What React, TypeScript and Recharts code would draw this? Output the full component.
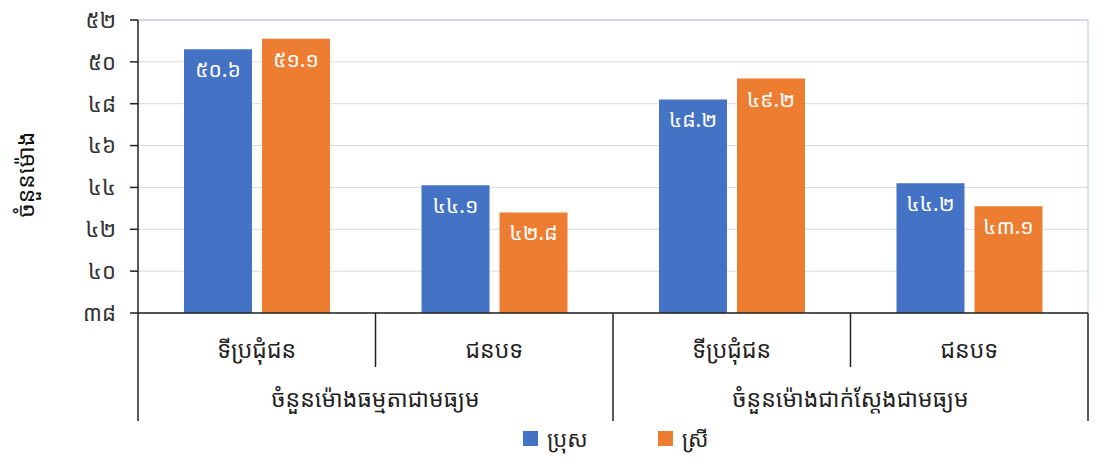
import { Bar, BarChart, CartesianGrid, LabelList, Legend, ReferenceLine, XAxis, YAxis } from "recharts";

const subCategories = ["ទីប្រជុំជន", "ជនបទ", "ទីប្រជុំជន", "ជនបទ"];
const groups = ["ចំនួនម៉ោងធម្មតាជាមធ្យម", "ចំនួនម៉ោងជាក់ស្តែងជាមធ្យម"];
const male = [50.6, 44.1, 48.2, 44.2];
const female = [51.1, 42.8, 49.2, 43.1];
const yTicks = [38, 40, 42, 44, 46, 48, 50, 52];

const data = subCategories.map((name, i) => ({
  name,
  group: groups[Math.floor(i / 2)],
  male: male[i],
  female: female[i],
}));

const FONT = "'Noto Sans Khmer', 'Khmer OS', 'Khmer OS System', sans-serif";
const KHMER_DIGITS = "០១២៣៤៥៦៧៨៩";
const toKhmer = (v: number | string) =>
  String(v).replace(/[0-9]/g, (d) => KHMER_DIGITS[Number(d)]);

const WIDTH = 1113;
const HEIGHT = 473;
const MARGIN = { top: 20, right: 25, bottom: 6, left: 0 };
const Y_WIDTH = 138;
const HALF_BAND = (WIDTH - MARGIN.left - MARGIN.right - Y_WIDTH) / subCategories.length / 2;

function CategoryTick(props: any) {
  const { x, y, payload, index } = props;
  const left = x - HALF_BAND;
  const right = x + HALF_BAND;
  const groupStart = index % 2 === 0;
  return (
    <g>
      <text x={x} y={y + 36} textAnchor="middle" dominantBaseline="central" fontSize={23} fontWeight={400} fill="#222" fontFamily={FONT}>
        {payload.value}
      </text>
      <line x1={left} x2={left} y1={y} y2={groupStart ? y + 108 : y + 54} stroke="#222" strokeWidth={1.5} />
      {index === subCategories.length - 1 && (
        <line x1={right} x2={right} y1={y} y2={y + 108} stroke="#222" strokeWidth={1.5} />
      )}
      {!groupStart && (
        <text x={left} y={y + 85} textAnchor="middle" dominantBaseline="central" fontSize={23} fontWeight={400} fill="#222" fontFamily={FONT}>
          {groups[Math.floor(index / 2)]}
        </text>
      )}
    </g>
  );
}

function LegendContent() {
  const items = [
    { label: "ប្រុស", color: "#4472C4" },
    { label: "ស្រី", color: "#ED7D31" },
  ];
  return (
    <div style={{ display: "flex", paddingLeft: 523, gap: 70, fontFamily: FONT, fontSize: 22, color: "#222", lineHeight: "30px" }}>
      {items.map((it) => (
        <div key={it.label} style={{ display: "flex", alignItems: "center" }}>
          <span style={{ width: 15, height: 15, background: it.color, marginRight: 9, display: "inline-block" }} />
          {it.label}
        </div>
      ))}
    </div>
  );
}

export default function App() {
  return (
    <div style={{ position: "absolute", left: 0, top: 0, background: "#fff" }}>
      <BarChart width={WIDTH} height={HEIGHT} data={data} margin={MARGIN} barSize={68} barGap={10}>
        <CartesianGrid vertical={false} stroke="#d9d9d9" />
        <CartesianGrid
          horizontal={false}
          stroke="#b4c7e7"
          verticalCoordinatesGenerator={({ offset }: any) => [offset.left + offset.width]}
        />
        <ReferenceLine y={52} stroke="#b4c7e7" />
        <XAxis
          dataKey="name"
          interval={0}
          tickSize={0}
          tickMargin={0}
          height={110}
          stroke="#222"
          strokeWidth={1.5}
          tick={<CategoryTick />}
        />
        <YAxis
          width={Y_WIDTH}
          domain={[38, 52]}
          ticks={yTicks}
          interval={0}
          tickSize={8}
          tickMargin={14}
          stroke="#222"
          strokeWidth={1.5}
          tick={{ fill: "#333", fontSize: 22, fontFamily: FONT }}
          tickFormatter={toKhmer}
          label={{
            content: ({ viewBox }: any) => (
              <text
                transform={`translate(34, ${viewBox.y + viewBox.height / 2 + 8}) rotate(-90)`}
                textAnchor="middle"
                fontSize={23}
                fill="#111"
                fontFamily={FONT}
              >
                ចំនួនម៉ោង
              </text>
            ),
          }}
        />
        <Legend verticalAlign="bottom" height={44} content={<LegendContent />} />
        <Bar dataKey="male" name="ប្រុស" fill="#4472C4" isAnimationActive={false}>
          <LabelList
            dataKey="male"
            position="insideTop"
            offset={13}
            fill="#fff"
            fontSize={21}
            fontFamily={FONT}
            formatter={(v: any) => toKhmer(v)}
          />
        </Bar>
        <Bar dataKey="female" name="ស្រី" fill="#ED7D31" isAnimationActive={false}>
          <LabelList
            dataKey="female"
            position="insideTop"
            offset={13}
            fill="#fff"
            fontSize={21}
            fontFamily={FONT}
            formatter={(v: any) => toKhmer(v)}
          />
        </Bar>
      </BarChart>
    </div>
  );
}
